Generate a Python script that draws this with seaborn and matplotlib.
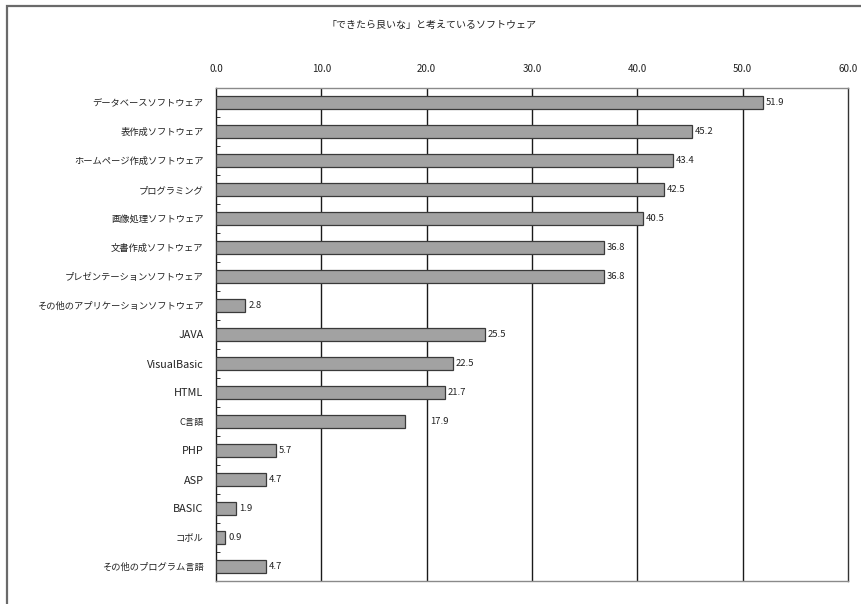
import matplotlib
matplotlib.use("Agg")
import matplotlib.pyplot as plt
import seaborn as sns
import pandas as pd
from matplotlib.patches import Rectangle

categories = [
    "データベースソフトウェア",
    "表作成ソフトウェア",
    "ホームページ作成ソフトウェア",
    "プログラミング",
    "画像処理ソフトウェア",
    "文書作成ソフトウェア",
    "プレゼンテーションソフトウェア",
    "その他のアプリケーションソフトウェア",
    "JAVA",
    "VisualBasic",
    "HTML",
    "C言語",
    "PHP",
    "ASP",
    "BASIC",
    "コボル",
    "その他のプログラム言語",
]
values = [51.9, 45.2, 43.4, 42.5, 40.5, 36.8, 36.8, 2.8, 25.5, 22.5, 21.7,
          17.9, 5.7, 4.7, 1.9, 0.9, 4.7]
x_ticks = [0, 10, 20, 30, 40, 50, 60]
title = "「できたら良いな」と考えているソフトウェア"

sns.set_theme(style="white")
plt.rcParams["font.family"] = ["Noto Sans CJK JP", "DejaVu Sans"]

df = pd.DataFrame({"item": categories, "pct": values})

fig = plt.figure(figsize=(8.62, 6.04), dpi=100)
ax = fig.add_axes([216 / 862, 1 - 581 / 604, (848 - 216) / 862, (581 - 88) / 604])

sns.barplot(data=df, x="pct", y="item", orient="h", ax=ax,
            color="#a2a2a2", width=0.42, saturation=1,
            edgecolor="#3a3a3a", linewidth=0.9, zorder=3)

ax.set_xlim(0, 60)
ax.set_ylim(len(categories) - 0.5, -0.5)
ax.set_xticks(x_ticks)
ax.set_xticklabels([f"{t:.1f}" for t in x_ticks], fontsize=7, color="#222222")
ax.xaxis.set_ticks_position("top")
ax.tick_params(axis="x", length=0, pad=10)
ax.tick_params(axis="y", length=0, pad=9, labelsize=6.7, labelcolor="#222222")
ax.set_xlabel("")
ax.set_ylabel("")

# Latin-only category names are set a little larger
for lab in ax.get_yticklabels():
    if lab.get_text().isascii():
        lab.set_fontsize(7.8)

# category boundary ticks on the left axis
ax.set_yticks([i + 0.5 for i in range(len(categories) - 1)], minor=True)
ax.tick_params(axis="y", which="minor", direction="in", length=3,
               width=0.7, color="#333333", left=True)

# vertical gridlines at each major tick
for t in x_ticks[1:-1]:
    ax.axvline(t, color="#1a1a1a", lw=1.0, zorder=1)

for side, col in [("left", "#1a1a1a"), ("right", "#333333"),
                  ("top", "#8a8a8a"), ("bottom", "#8a8a8a")]:
    ax.spines[side].set_visible(True)
    ax.spines[side].set_color(col)
    ax.spines[side].set_linewidth(1.0)

# value labels
for i, v in enumerate(values):
    off = 26 if categories[i] == "C言語" else 3
    ax.annotate(f"{v:.1f}", xy=(v, i), xytext=(off, 0),
                textcoords="offset pixels",
                va="center", ha="left", fontsize=6.8, color="#222222")

fig.text(432 / 862, 1 - 25 / 604, title, ha="center", va="center",
         fontsize=7.2, color="#222222")

# outer chart frame
fig.patches.append(Rectangle((7 / 862, -0.1), 1.2, (1 - 6 / 604) + 0.1,
                             transform=fig.transFigure, fill=False,
                             edgecolor="#6a6a6a", linewidth=1.6))

fig.savefig("out.png", dpi=100, facecolor="white")
